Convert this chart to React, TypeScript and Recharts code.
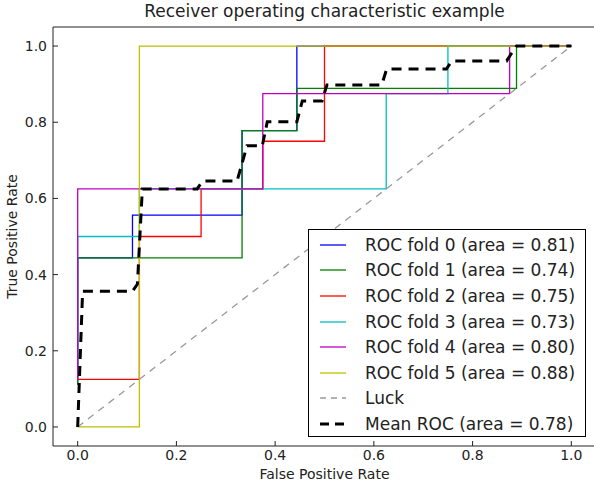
import { LineChart, Line, XAxis, YAxis, Legend } from 'recharts';

const title = 'Receiver operating characteristic example';
const ticks = [0, 0.2, 0.4, 0.6, 0.8, 1.0];

// ROC points (fpr, tpr)
const fold0 = [
  { x: 0, y: 0.111 }, { x: 0, y: 0.444 }, { x: 0.111, y: 0.444 }, { x: 0.111, y: 0.556 },
  { x: 0.333, y: 0.556 }, { x: 0.333, y: 0.778 }, { x: 0.444, y: 0.778 }, { x: 0.444, y: 1 },
  { x: 1, y: 1 },
];
const fold1 = [
  { x: 0, y: 0.111 }, { x: 0, y: 0.444 }, { x: 0.333, y: 0.444 }, { x: 0.333, y: 0.778 },
  { x: 0.444, y: 0.778 }, { x: 0.444, y: 0.889 }, { x: 0.889, y: 0.889 }, { x: 0.889, y: 1 },
  { x: 1, y: 1 },
];
const fold2 = [
  { x: 0, y: 0.125 }, { x: 0.125, y: 0.125 }, { x: 0.125, y: 0.5 }, { x: 0.25, y: 0.5 },
  { x: 0.25, y: 0.625 }, { x: 0.375, y: 0.625 }, { x: 0.375, y: 0.75 }, { x: 0.5, y: 0.75 },
  { x: 0.5, y: 1 }, { x: 1, y: 1 },
];
const fold3 = [
  { x: 0, y: 0.125 }, { x: 0, y: 0.5 }, { x: 0.125, y: 0.5 }, { x: 0.125, y: 0.625 },
  { x: 0.625, y: 0.625 }, { x: 0.625, y: 0.875 }, { x: 0.75, y: 0.875 }, { x: 0.75, y: 1 },
  { x: 1, y: 1 },
];
const fold4 = [
  { x: 0, y: 0.125 }, { x: 0, y: 0.625 }, { x: 0.375, y: 0.625 }, { x: 0.375, y: 0.875 },
  { x: 0.875, y: 0.875 }, { x: 0.875, y: 1 }, { x: 1, y: 1 },
];
const fold5 = [
  { x: 0, y: 0 }, { x: 0.125, y: 0 }, { x: 0.125, y: 1 }, { x: 1, y: 1 },
];
const luck = [{ x: 0, y: 0 }, { x: 1, y: 1 }];
const meanRoc = [
  { x: 0, y: 0 }, { x: 0.01, y: 0.356 }, { x: 0.111, y: 0.356 }, { x: 0.121, y: 0.375 },
  { x: 0.131, y: 0.625 }, { x: 0.242, y: 0.625 }, { x: 0.253, y: 0.646 }, { x: 0.323, y: 0.646 },
  { x: 0.343, y: 0.738 }, { x: 0.374, y: 0.738 }, { x: 0.384, y: 0.801 }, { x: 0.444, y: 0.801 },
  { x: 0.455, y: 0.856 }, { x: 0.495, y: 0.856 }, { x: 0.505, y: 0.898 }, { x: 0.616, y: 0.898 },
  { x: 0.626, y: 0.94 }, { x: 0.747, y: 0.94 }, { x: 0.758, y: 0.961 }, { x: 0.869, y: 0.961 },
  { x: 0.879, y: 0.981 }, { x: 0.889, y: 1 }, { x: 1, y: 1 },
];

const folds = [
  { name: 'ROC fold 0 (area = 0.81)', data: fold0, color: '#0000ff' },
  { name: 'ROC fold 1 (area = 0.74)', data: fold1, color: '#008000' },
  { name: 'ROC fold 2 (area = 0.75)', data: fold2, color: '#ff0000' },
  { name: 'ROC fold 3 (area = 0.73)', data: fold3, color: '#00bfbf' },
  { name: 'ROC fold 4 (area = 0.80)', data: fold4, color: '#bf00bf' },
  { name: 'ROC fold 5 (area = 0.88)', data: fold5, color: '#bfbf00' },
];

const font = '"DejaVu Sans", sans-serif';
const fmt = (v: number) => v.toFixed(1);

function LegendBox() {
  const rows = [
    ...folds.map((f) => ({ name: f.name, color: f.color, dash: undefined as string | undefined, w: 1.3 })),
    { name: 'Luck', color: '#999999', dash: '6 5', w: 1.3 },
    { name: 'Mean ROC (area = 0.78)', color: '#000000', dash: '9 6', w: 3 },
  ];
  return (
    <div
      style={{
        width: 278,
        height: 208,
        border: '1px solid #000',
        background: '#fff',
        boxSizing: 'border-box',
        paddingTop: 2,
        fontFamily: font,
        fontSize: 17,
      }}
    >
      {rows.map((r) => (
        <div key={r.name} style={{ display: 'flex', alignItems: 'center', height: 25.6 }}>
          <svg width={56} height={10} style={{ flex: 'none' }}>
            <line x1={11} x2={37} y1={5} y2={5} stroke={r.color} strokeWidth={r.w} strokeDasharray={r.dash} />
          </svg>
          <span style={{ color: '#222', whiteSpace: 'nowrap' }}>{r.name}</span>
        </div>
      ))}
    </div>
  );
}

export default function App() {
  return (
    <div style={{ position: 'absolute', left: 0, top: 0, width: 594, height: 482, overflow: 'hidden', background: '#fff' }}>
      <div
        style={{
          position: 'absolute',
          left: 53,
          width: 543,
          top: 3,
          textAlign: 'center',
          fontFamily: font,
          fontSize: 17,
          lineHeight: 1,
          color: '#222',
          whiteSpace: 'nowrap',
        }}
      >
        {title}
      </div>
      <LineChart width={600} height={482} margin={{ top: 0, right: 0, bottom: 0, left: 0 }}>
        <XAxis
          dataKey="x"
          type="number"
          domain={[-0.05, 1.05]}
          ticks={ticks}
          tickFormatter={fmt}
          allowDataOverflow
          height={36}
          stroke="#222"
          tickSize={-5}
          tickMargin={9}
          tick={{ fill: '#222', fontSize: 14, fontFamily: font }}
          label={{ value: 'False Positive Rate', position: 'insideBottom', offset: 3, fill: '#222', fontSize: 14, fontFamily: font }}
        />
        <XAxis
          xAxisId="top"
          orientation="top"
          dataKey="x"
          type="number"
          domain={[-0.05, 1.05]}
          ticks={ticks}
          allowDataOverflow
          height={27}
          stroke="#222"
          tickSize={-5}
          tick={false}
        />
        <YAxis
          dataKey="y"
          type="number"
          domain={[-0.05, 1.05]}
          ticks={ticks}
          tickFormatter={fmt}
          allowDataOverflow
          width={53}
          stroke="#222"
          tickSize={-5}
          tickMargin={11}
          tick={{ fill: '#222', fontSize: 14, fontFamily: font }}
          label={{ value: 'True Positive Rate', angle: -90, position: 'insideLeft', offset: 12, fill: '#222', fontSize: 14, fontFamily: font, style: { textAnchor: 'middle' } }}
        />
        <YAxis
          yAxisId="right"
          orientation="right"
          type="number"
          domain={[-0.05, 1.05]}
          ticks={ticks}
          allowDataOverflow
          width={4}
          stroke="#222"
          tickSize={-5}
          tick={false}
        />
        {folds.map((f) => (
          <Line
            key={f.name}
            data={f.data}
            dataKey="y"
            name={f.name}
            type="linear"
            stroke={f.color}
            strokeWidth={1.3}
            dot={false}
            activeDot={false}
            isAnimationActive={false}
          />
        ))}
        <Line
          data={luck}
          dataKey="y"
          name="Luck"
          type="linear"
          stroke="#999999"
          strokeWidth={1.3}
          strokeDasharray="7 6"
          dot={false}
          activeDot={false}
          isAnimationActive={false}
        />
        <Line
          data={meanRoc}
          dataKey="y"
          name="Mean ROC (area = 0.78)"
          type="linear"
          stroke="#000000"
          strokeWidth={3}
          strokeDasharray="10 7"
          dot={false}
          activeDot={false}
          isAnimationActive={false}
        />
        <Legend
          layout="vertical"
          align="center"
          verticalAlign="middle"
          content={() => <LegendBox />}
          wrapperStyle={{ position: 'absolute', left: 308, top: 229, width: 278 }}
        />
      </LineChart>
    </div>
  );
}
